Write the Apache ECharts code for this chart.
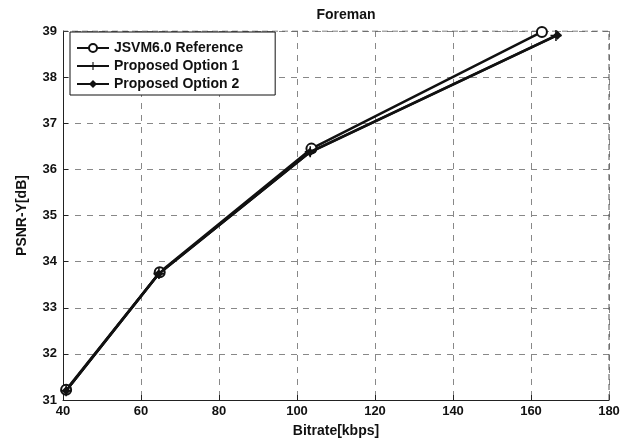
<!DOCTYPE html>
<html>
<head>
<meta charset="utf-8">
<script src="https://cdn.jsdelivr.net/npm/echarts@6/dist/echarts.min.js"></script>
<style>
  html, body { margin: 0; padding: 0; background: #fff; }
  #main { width: 630px; height: 443px; }
</style>
</head>
<body>
<div id="main"></div>
<script>
// 数据
var xTicks = [40, 60, 80, 100, 120, 140, 160, 180];
var yTicks = [31, 32, 33, 34, 35, 36, 37, 38, 39];

var refRate = [40.8, 64.8, 103.7, 162.8];
var refPsnr = [31.22, 33.77, 36.45, 38.98];

var op1Rate = [40.8, 64.6, 103.4, 166.4];
var op1Psnr = [31.2, 33.74, 36.38, 38.9];

var op2Rate = [40.8, 64.5, 103.3, 166.8];
var op2Psnr = [31.2, 33.73, 36.37, 38.91];

function pairs(xs, ys) {
  var out = [];
  for (var i = 0; i < xs.length; i++) out.push([xs[i], ys[i]]);
  return out;
}

var plusPath = 'path://M4.3,0 L5.7,0 L5.7,4.3 L10,4.3 L10,5.7 L5.7,5.7 L5.7,10 L4.3,10 L4.3,5.7 L0,5.7 L0,4.3 L4.3,4.3 Z';
var diamondPath = 'path://M5,0 L10,5 L5,10 L0,5 Z';

var font = 'Liberation Sans, Arial, sans-serif';

var option = {
  animation: false,
  backgroundColor: '#fff',
  title: {
    text: 'Foreman',
    left: 341,
    top: 3,
    textAlign: 'center',
    textStyle: { fontFamily: font, fontSize: 14, fontWeight: 'bold', color: '#111' }
  },
  legend: {
    left: 70,
    top: 32,
    orient: 'vertical',
    itemWidth: 32,
    itemHeight: 10,
    itemGap: 4,
    padding: [9, 32, 4, 6],
    borderColor: '#111',
    borderWidth: 1,
    backgroundColor: '#fff',
    textStyle: { fontFamily: font, fontSize: 14, fontWeight: 'bold', color: '#111' },
    data: ['JSVM6.0 Reference', 'Proposed Option 1', 'Proposed Option 2']
  },
  grid: { left: 63, right: 21, top: 31, bottom: 43 },
  xAxis: {
    type: 'value',
    min: 40, max: 180, interval: 20,
    name: 'Bitrate[kbps]',
    nameLocation: 'middle',
    nameGap: 24,
    nameTextStyle: { fontFamily: font, fontSize: 14, fontWeight: 'bold', color: '#111' },
    axisLine: { show: true, onZero: false, lineStyle: { color: '#222', width: 1 } },
    axisTick: { show: true, inside: true, length: 5, lineStyle: { color: '#222' } },
    axisLabel: {
      fontFamily: font, fontSize: 13, fontWeight: 'bold', color: '#111', margin: 5,
      formatter: function (v) { return xTicks.indexOf(v) >= 0 ? String(v) : ''; }
    },
    splitLine: { show: true, lineStyle: { color: '#888', type: [6, 6], width: 1 } }
  },
  yAxis: {
    type: 'value',
    min: 31, max: 39, interval: 1,
    name: 'PSNR-Y[dB]',
    nameLocation: 'middle',
    nameGap: 34,
    nameTextStyle: { fontFamily: font, fontSize: 14, fontWeight: 'bold', color: '#111' },
    axisLine: { show: true, onZero: false, lineStyle: { color: '#222', width: 1 } },
    axisTick: { show: true, inside: true, length: 5, lineStyle: { color: '#222' } },
    axisLabel: {
      fontFamily: font, fontSize: 13, fontWeight: 'bold', color: '#111', margin: 6,
      formatter: function (v) { return yTicks.indexOf(v) >= 0 ? String(v) : ''; }
    },
    splitLine: { show: true, lineStyle: { color: '#888', type: [6, 6], width: 1 } }
  },
  series: [
    {
      name: 'JSVM6.0 Reference',
      type: 'line',
      data: pairs(refRate, refPsnr),
      symbol: 'emptyCircle',
      symbolSize: 10,
      lineStyle: { color: '#111', width: 2.5 },
      itemStyle: { color: '#111', borderColor: '#111', borderWidth: 2 },
      z: 3
    },
    {
      name: 'Proposed Option 1',
      type: 'line',
      data: pairs(op1Rate, op1Psnr),
      symbol: plusPath,
      symbolSize: 11,
      lineStyle: { color: '#111', width: 2.5 },
      itemStyle: { color: '#111' },
      z: 4
    },
    {
      name: 'Proposed Option 2',
      type: 'line',
      data: pairs(op2Rate, op2Psnr),
      symbol: diamondPath,
      symbolSize: 9,
      lineStyle: { color: '#111', width: 2.5 },
      itemStyle: { color: '#111' },
      z: 5
    },
    {
      // 右侧和上侧边框
      type: 'line',
      data: [[180, 31], [180, 39], [40, 39]],
      symbol: 'none',
      silent: true,
      lineStyle: { color: '#555', width: 1, type: [6, 4] },
      z: 1
    }
  ]
};

var myChart = echarts.init(document.getElementById('main'));
myChart.setOption(option);
</script>
</body>
</html>
